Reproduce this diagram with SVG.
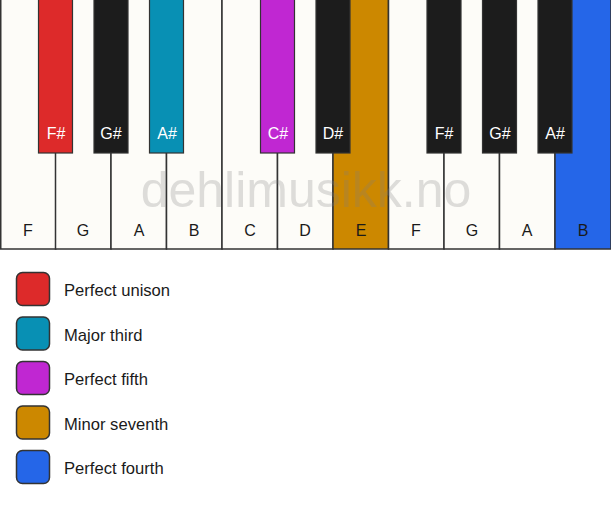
<svg xmlns="http://www.w3.org/2000/svg" width="611" height="506" viewBox="0 0 611 506">
<style>
.w{fill:#fdfcf8;stroke:#333;stroke-width:1.5}
.b{stroke:#333;stroke-width:1.2}
.lw{font-family:"Liberation Sans",Arial,sans-serif;font-size:16px;fill:#1a1a1a;text-anchor:middle}
.lb{font-family:"Liberation Sans",Arial,sans-serif;font-size:16px;fill:#ffffff;text-anchor:middle}
.lg{font-family:"Liberation Sans",Arial,sans-serif;font-size:16.6px;fill:#1a1a1a}
.sq{stroke:#333;stroke-width:1.5}
.wm{font-family:"Liberation Sans",Arial,sans-serif;font-size:50px;fill:#808080;opacity:0.25;text-anchor:middle}
</style>
<rect width="611" height="506" fill="#ffffff"/>
<g id="white-keys">
<g id="key-F1"><rect class="w" x="0.75" y="-1" width="55" height="250"/><text class="lw" x="28" y="236">F</text></g>
<g id="key-G1"><rect class="w" x="55.5" y="-1" width="55.5" height="250"/><text class="lw" x="83" y="236">G</text></g>
<g id="key-A1"><rect class="w" x="111" y="-1" width="55.5" height="250"/><text class="lw" x="139" y="236">A</text></g>
<g id="key-B1"><rect class="w" x="166.5" y="-1" width="55.5" height="250"/><text class="lw" x="194" y="236">B</text></g>
<g id="key-C"><rect class="w" x="222" y="-1" width="55.5" height="250"/><text class="lw" x="250" y="236">C</text></g>
<g id="key-D"><rect class="w" x="277.5" y="-1" width="55.5" height="250"/><text class="lw" x="305" y="236">D</text></g>
<g id="key-E"><rect class="w" x="333" y="-1" width="55.5" height="250" style="fill:#cc8800"/><text class="lw" x="361" y="236">E</text></g>
<g id="key-F2"><rect class="w" x="388.5" y="-1" width="55.5" height="250"/><text class="lw" x="416" y="236">F</text></g>
<g id="key-G2"><rect class="w" x="444" y="-1" width="55.5" height="250"/><text class="lw" x="472" y="236">G</text></g>
<g id="key-A2"><rect class="w" x="499.5" y="-1" width="55.5" height="250"/><text class="lw" x="527" y="236">A</text></g>
<g id="key-B2"><rect class="w" x="555" y="-1" width="56" height="250" style="fill:#2566e8"/><text class="lw" x="583" y="236">B</text></g>
</g>
<g id="black-keys">
<g id="key-Fs1"><rect class="b" x="38.5" y="-1" width="34" height="154" fill="#dd2a2a"/><text class="lb" x="56" y="139">F#</text></g>
<g id="key-Gs1"><rect class="b" x="94" y="-1" width="34" height="154" fill="#1c1c1c"/><text class="lb" x="111" y="139">G#</text></g>
<g id="key-As1"><rect class="b" x="149.5" y="-1" width="34" height="154" fill="#0890b4"/><text class="lb" x="167" y="139">A#</text></g>
<g id="key-Cs"><rect class="b" x="260.5" y="-1" width="34" height="154" fill="#c027d2"/><text class="lb" x="278" y="139">C#</text></g>
<g id="key-Ds"><rect class="b" x="316" y="-1" width="34" height="154" fill="#1c1c1c"/><text class="lb" x="333" y="139">D#</text></g>
<g id="key-Fs2"><rect class="b" x="427" y="-1" width="34" height="154" fill="#1c1c1c"/><text class="lb" x="444" y="139">F#</text></g>
<g id="key-Gs2"><rect class="b" x="482.5" y="-1" width="34" height="154" fill="#1c1c1c"/><text class="lb" x="500" y="139">G#</text></g>
<g id="key-As2"><rect class="b" x="538" y="-1" width="34" height="154" fill="#1c1c1c"/><text class="lb" x="555" y="139">A#</text></g>
</g>
<text class="wm" x="306" y="207">dehlimusikk.no</text>
<g id="legend">
<g id="legend-unison"><rect class="sq" x="16.5" y="272.5" width="33" height="33" rx="6" fill="#dd2a2a"/><text class="lg" x="64" y="296">Perfect unison</text></g>
<g id="legend-third"><rect class="sq" x="16.5" y="317" width="33" height="33" rx="6" fill="#0890b4"/><text class="lg" x="64" y="340.5">Major third</text></g>
<g id="legend-fifth"><rect class="sq" x="16.5" y="361.5" width="33" height="33" rx="6" fill="#c027d2"/><text class="lg" x="64" y="385">Perfect fifth</text></g>
<g id="legend-seventh"><rect class="sq" x="16.5" y="406" width="33" height="33" rx="6" fill="#cc8800"/><text class="lg" x="64" y="429.5">Minor seventh</text></g>
<g id="legend-fourth"><rect class="sq" x="16.5" y="450.5" width="33" height="33" rx="6" fill="#2566e8"/><text class="lg" x="64" y="474">Perfect fourth</text></g>
</g>
<g id="connectors"/>
</svg>
